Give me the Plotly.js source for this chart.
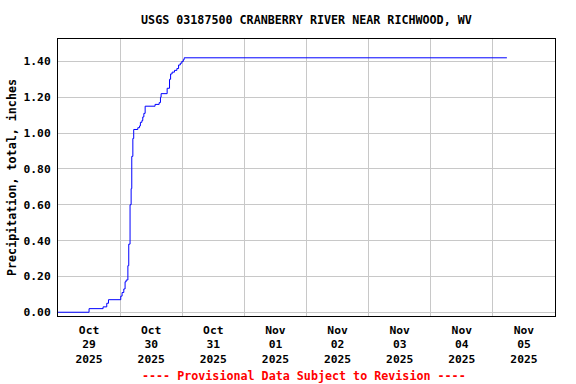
<!DOCTYPE html>
<html>
<head>
<meta charset="utf-8">
<script src="https://cdn.plot.ly/plotly-3.0.1.min.js"></script>
<style>html,body{margin:0;padding:0;background:#fff;}#chart{width:576px;height:384px;}</style>
</head>
<body>
<div id="chart"></div>
<script>
// Cumulative precipitation (inches), step changes
const times = [
  "2025-10-29 00:00", "2025-10-29 12:00", "2025-10-29 17:25", "2025-10-29 18:50", "2025-10-29 19:30",
  "2025-10-30 00:15", "2025-10-30 00:45", "2025-10-30 01:25", "2025-10-30 01:55", "2025-10-30 02:20",
  "2025-10-30 03:00", "2025-10-30 03:20", "2025-10-30 03:50", "2025-10-30 04:15", "2025-10-30 04:30",
  "2025-10-30 04:55", "2025-10-30 05:15", "2025-10-30 06:50", "2025-10-30 07:30", "2025-10-30 07:50",
  "2025-10-30 08:25", "2025-10-30 08:45", "2025-10-30 09:10", "2025-10-30 09:40", "2025-10-30 13:30",
  "2025-10-30 15:05", "2025-10-30 15:35", "2025-10-30 15:50", "2025-10-30 18:10", "2025-10-30 19:05",
  "2025-10-30 19:30", "2025-10-30 20:05", "2025-10-30 21:00", "2025-10-30 21:55", "2025-10-30 22:35",
  "2025-10-30 23:15", "2025-10-30 23:50", "2025-10-31 00:25", "2025-10-31 00:45", "2025-11-05 05:25"
];
const precip = [
  0.00, 0.02, 0.03, 0.05, 0.07,
  0.09, 0.11, 0.13, 0.17, 0.18,
  0.26, 0.38, 0.60, 0.69, 0.87,
  0.97, 1.02, 1.03, 1.04, 1.06,
  1.07, 1.09, 1.11, 1.15, 1.16,
  1.17, 1.20, 1.22, 1.25, 1.30,
  1.33, 1.34, 1.35, 1.36, 1.38,
  1.39, 1.40, 1.41, 1.42, 1.42
];
const titleText = "USGS 03187500 CRANBERRY RIVER NEAR RICHWOOD, WV";
const yTitle = "Precipitation, total, inches";
const footer = "---- Provisional Data Subject to Revision ----";
const xRange = ["2025-10-29 00:00", "2025-11-06 00:00"];
const yRange = [-0.021, 1.525];

const fam = "DejaVu Sans Mono, monospace";
const tickFont = {family: fam, size: 11.3, color: "#000", weight: "bold"};
const titleFont = {family: fam, size: 11.7, color: "#000", weight: "bold"};

Plotly.newPlot("chart", [{
  x: times, y: precip, type: "scatter", mode: "lines",
  line: {color: "#0000ff", width: 1, shape: "hv"}
}], {
  width: 576, height: 384,
  margin: {l: 58, r: 21, t: 39, b: 68},
  paper_bgcolor: "#fff", plot_bgcolor: "#fff",
  showlegend: false,
  font: tickFont,
  title: {text: titleText, font: titleFont,
          x: 0.532, xanchor: "center", y: 0.948, yanchor: "middle"},
  xaxis: {
    type: "date", range: xRange, tick0: "2025-10-29", dtick: 86400000,
    ticklabelmode: "period", tickformat: "%b<br>%d<br>%Y",
    showgrid: true, gridcolor: "#c8c8c8", gridwidth: 1,
    showline: true, linecolor: "#000", linewidth: 1, mirror: true,
    ticks: "", zeroline: false, tickfont: tickFont, ticklabelstandoff: 3
  },
  yaxis: {
    range: yRange, tick0: 0, dtick: 0.2, tickformat: ".2f",
    showgrid: true, gridcolor: "#c8c8c8", gridwidth: 1,
    showline: true, linecolor: "#000", linewidth: 1, mirror: true,
    ticks: "", zeroline: false, tickfont: tickFont, ticklabelstandoff: 4,
    title: {text: yTitle, font: titleFont, standoff: 4}
  },
  annotations: [{
    text: footer, xref: "paper", yref: "paper", x: 0.495, y: -0.215,
    xanchor: "center", yanchor: "middle", showarrow: false,
    font: {family: fam, size: 11.7, color: "#ff0000", weight: "bold"}
  }]
}, {staticPlot: true, displayModeBar: false});
</script>
</body>
</html>
